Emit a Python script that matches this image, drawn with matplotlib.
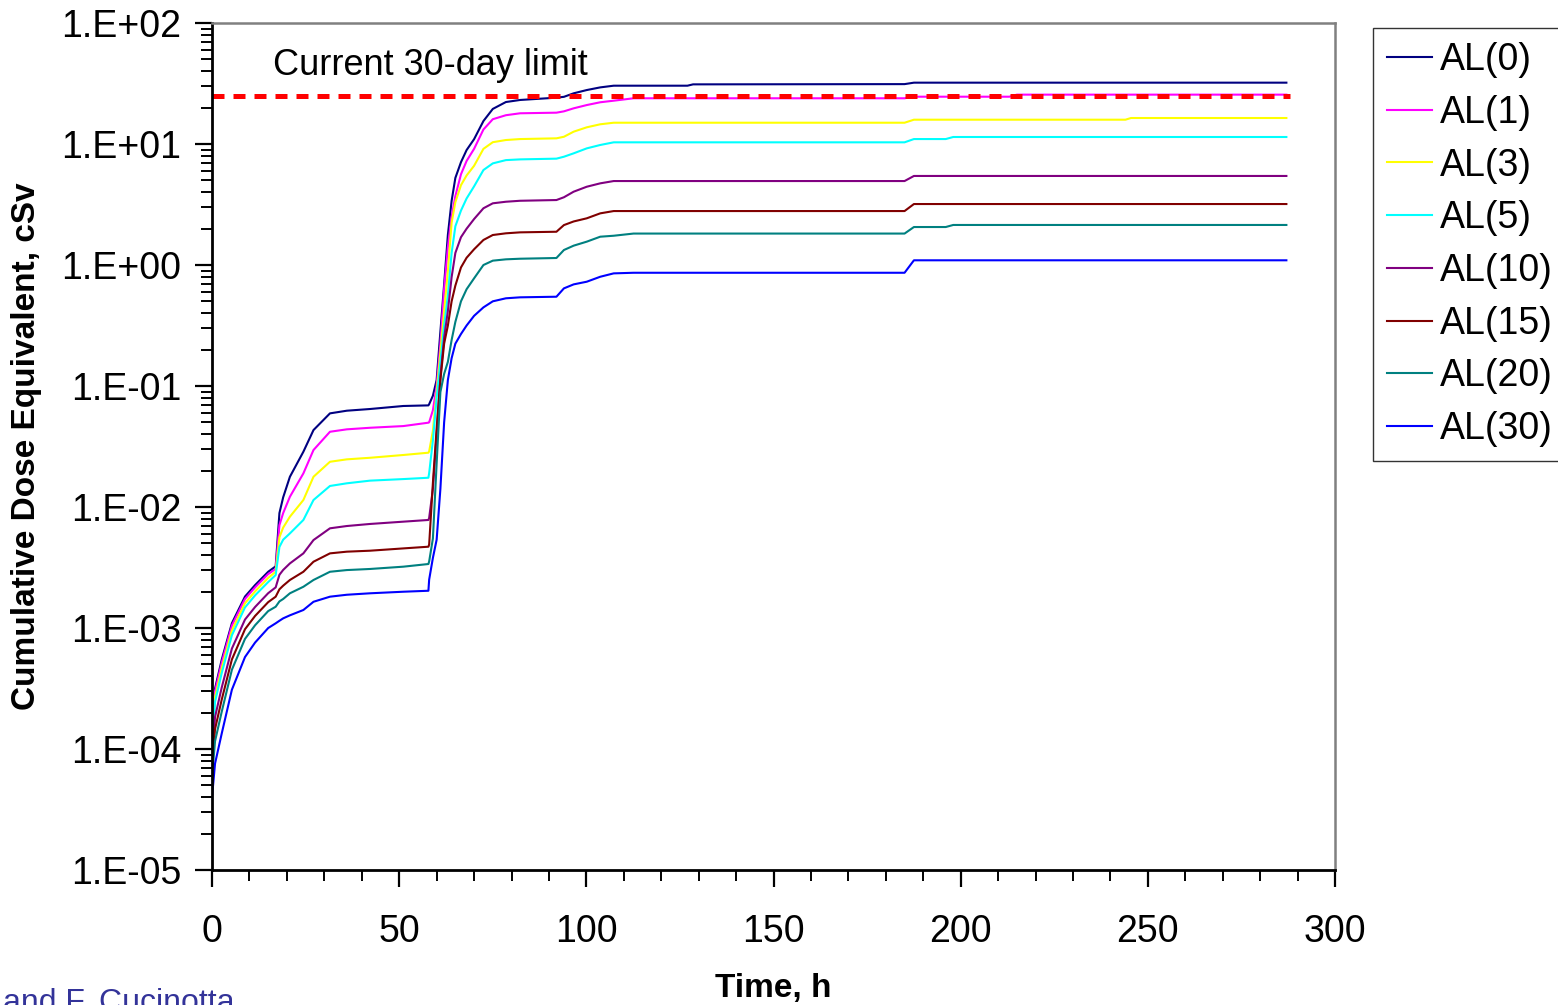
import matplotlib
matplotlib.use("Agg")
import matplotlib.pyplot as plt
import numpy as np
from matplotlib.ticker import FixedLocator, FuncFormatter, MultipleLocator

plt.rcParams['font.family'] = ['Liberation Sans', 'DejaVu Sans']

# time grid (h) shared by all curves
hours = [0, 0.8, 2.6, 5.3, 8.8, 11.5, 15, 17.0, 18.0, 19.0, 20.8, 24.4, 27.1, 31.5, 36, 42.2, 51.1, 57.8,
         58.0, 59.0, 60.0, 61.0, 62.0, 63.0, 64.0, 65.0, 66.5, 68.0, 70.0, 72.5, 75.0, 78.5, 82.3,
         92.0, 94.0, 96.6, 100.1, 103.7, 107.3, 112.6, 127.0, 128.5, 185.0, 187.5, 196.0, 198.0,
         213.0, 215.0, 244.0, 245.5, 287.0]

# log10 of cumulative dose equivalent (cSv)
al0 = [-3.84, -3.50, -3.26, -2.96, -2.74, -2.645, -2.535, -2.49, -2.05, -1.92, -1.75, -1.543, -1.364, -1.226, -1.204, -1.19, -1.165, -1.16,
       -1.15, -1.08, -0.95, -0.55, -0.16, 0.25, 0.53, 0.72, 0.85, 0.95, 1.04, 1.19, 1.29, 1.347, 1.364,
       1.383, 1.39, 1.419, 1.446, 1.468, 1.482, 1.482, 1.482, 1.493, 1.495, 1.507, 1.507, 1.507, 1.507, 1.507, 1.507, 1.507, 1.507]
al1 = [-3.868, -3.525, -3.285, -2.98, -2.76, -2.664, -2.554, -2.512, -2.15, -2.05, -1.915, -1.722, -1.529, -1.378, -1.358, -1.345, -1.331, -1.303,
       -1.30, -1.20, -1.0, -0.65, -0.2, 0.15, 0.40, 0.57, 0.75, 0.86, 0.96, 1.12, 1.205, 1.238, 1.254,
       1.259, 1.27, 1.295, 1.322, 1.345, 1.358, 1.378, 1.378, 1.378, 1.378, 1.391, 1.391, 1.391, 1.391, 1.408, 1.408, 1.408, 1.408]
al3 = [-3.926, -3.57, -3.33, -3.02, -2.795, -2.697, -2.586, -2.535, -2.25, -2.17, -2.08, -1.942, -1.75, -1.626, -1.606, -1.593, -1.570, -1.551,
       -1.54, -1.37, -1.05, -0.72, -0.38, -0.05, 0.35, 0.52, 0.66, 0.74, 0.82, 0.96, 1.015, 1.033, 1.041,
       1.047, 1.06, 1.102, 1.138, 1.163, 1.176, 1.176, 1.176, 1.176, 1.176, 1.201, 1.201, 1.201, 1.201, 1.201, 1.201, 1.215, 1.215]
al5 = [-3.98, -3.61, -3.37, -3.06, -2.83, -2.73, -2.62, -2.562, -2.33, -2.27, -2.218, -2.107, -1.942, -1.826, -1.804, -1.782, -1.769, -1.758,
       -1.72, -1.45, -1.1, -0.8, -0.5, -0.25, 0.1, 0.32, 0.45, 0.55, 0.65, 0.785, 0.84, 0.867, 0.873,
       0.879, 0.895, 0.923, 0.964, 0.992, 1.014, 1.014, 1.014, 1.014, 1.014, 1.041, 1.041, 1.058, 1.058, 1.058, 1.058, 1.058, 1.058]
al10 = [-4.064, -3.735, -3.49, -3.17, -2.93, -2.826, -2.712, -2.664, -2.56, -2.52, -2.466, -2.383, -2.273, -2.176, -2.157, -2.140, -2.121, -2.107,
        -2.09, -1.85, -1.4, -0.93, -0.6, -0.38, -0.1, 0.10, 0.23, 0.30, 0.38, 0.469, 0.51, 0.523, 0.531,
        0.537, 0.56, 0.606, 0.647, 0.675, 0.694, 0.694, 0.694, 0.694, 0.694, 0.736, 0.736, 0.736, 0.736, 0.736, 0.736, 0.736, 0.736]
al15 = [-4.146, -3.835, -3.59, -3.26, -3.01, -2.90, -2.786, -2.741, -2.68, -2.65, -2.603, -2.535, -2.452, -2.383, -2.369, -2.361, -2.342, -2.328,
        -2.31, -1.8, -1.35, -0.95, -0.65, -0.5, -0.3, -0.17, -0.02, 0.06, 0.13, 0.207, 0.248, 0.262, 0.270,
        0.275, 0.33, 0.36, 0.386, 0.427, 0.446, 0.446, 0.446, 0.446, 0.446, 0.504, 0.504, 0.504, 0.504, 0.504, 0.504, 0.504, 0.504]
al20 = [-4.229, -3.935, -3.69, -3.345, -3.09, -2.977, -2.86, -2.824, -2.78, -2.76, -2.713, -2.659, -2.603, -2.535, -2.521, -2.512, -2.493, -2.471,
        -2.45, -2.26, -1.64, -1.05, -0.90, -0.80, -0.62, -0.47, -0.30, -0.20, -0.11, 0.0, 0.036, 0.047, 0.052,
        0.058, 0.124, 0.16, 0.193, 0.234, 0.242, 0.26, 0.26, 0.26, 0.26, 0.314, 0.314, 0.331, 0.331, 0.331, 0.331, 0.331, 0.331]
al30 = [-4.394, -4.12, -3.87, -3.51, -3.24, -3.12, -3.00, -2.961, -2.94, -2.92, -2.895, -2.851, -2.783, -2.741, -2.725, -2.713, -2.70, -2.692,
        -2.6, -2.42, -2.27, -1.85, -1.3, -0.95, -0.77, -0.65, -0.57, -0.50, -0.42, -0.35, -0.30, -0.275, -0.267,
        -0.262, -0.193, -0.16, -0.138, -0.097, -0.069, -0.064, -0.064, -0.064, -0.064, 0.039, 0.039, 0.039, 0.039, 0.039, 0.039, 0.039, 0.039]

labels = ['AL(0)', 'AL(1)', 'AL(3)', 'AL(5)', 'AL(10)', 'AL(15)', 'AL(20)', 'AL(30)']
colors = ['#000080', '#FF00FF', '#FFFF00', '#00FFFF', '#800080', '#800000', '#008080', '#0000FF']
series = [al0, al1, al3, al5, al10, al15, al20, al30]

limit_cSv = 25
limit_end = 288

fig = plt.figure(figsize=(15.58, 10.05), dpi=100)
ax = fig.add_axes([0.1361, 0.1343, 0.7208, 0.8428])

for lab, col, vals in zip(labels, colors, series):
    ax.plot(hours, 10 ** np.array(vals), color=col, lw=1.5, label=lab)

ax.plot([0, limit_end], [limit_cSv, limit_cSv], color='#FF0000', lw=3.6,
        dashes=(2.4, 1.8))
ax.text(16.3, 37.5, 'Current 30-day limit', fontsize=26, va='baseline', ha='left')

ax.set_yscale('log')
ax.set_xlim(0, 300)
ax.set_ylim(1e-5, 1e2)

ax.yaxis.set_major_locator(FixedLocator([10.0 ** e for e in range(-5, 3)]))
ax.yaxis.set_major_formatter(FuncFormatter(lambda v, p: '1.E%+03d' % int(round(np.log10(v)))))
ax.xaxis.set_major_locator(MultipleLocator(50))
ax.xaxis.set_minor_locator(MultipleLocator(10))

ax.tick_params(axis='both', which='major', direction='out', length=12, width=1.6,
               labelsize=27, color='black')
ax.tick_params(axis='both', which='minor', direction='out', length=8, width=1.4, color='black')
ax.tick_params(axis='x', which='major', pad=20)
ax.tick_params(axis='y', which='major', pad=10)

for s in ['left', 'bottom']:
    ax.spines[s].set_color('black')
    ax.spines[s].set_linewidth(2.0)
for s in ['top', 'right']:
    ax.spines[s].set_color('#808080')
    ax.spines[s].set_linewidth(1.8)

ax.set_xlabel('Time, h', fontsize=24, fontweight='bold', labelpad=16)
ax.set_ylabel('Cumulative Dose Equivalent, cSv', fontsize=24, fontweight='bold', labelpad=14)

leg = fig.legend(loc='upper left', bbox_to_anchor=(1373 / 1558, 1 - 28 / 1005),
                 fontsize=27, frameon=True, fancybox=False, borderaxespad=0,
                 handlelength=1.2, handletextpad=0.2, labelspacing=0.445,
                 borderpad=0.38)
leg.get_frame().set_edgecolor('black')
leg.get_frame().set_linewidth(1.0)

fig.text(3 / 1558, 1 - 988 / 1005, 'and F. Cucinotta', fontsize=23, color='#333399',
         ha='left', va='top')

fig.savefig('out.png', dpi=100, facecolor='white')
